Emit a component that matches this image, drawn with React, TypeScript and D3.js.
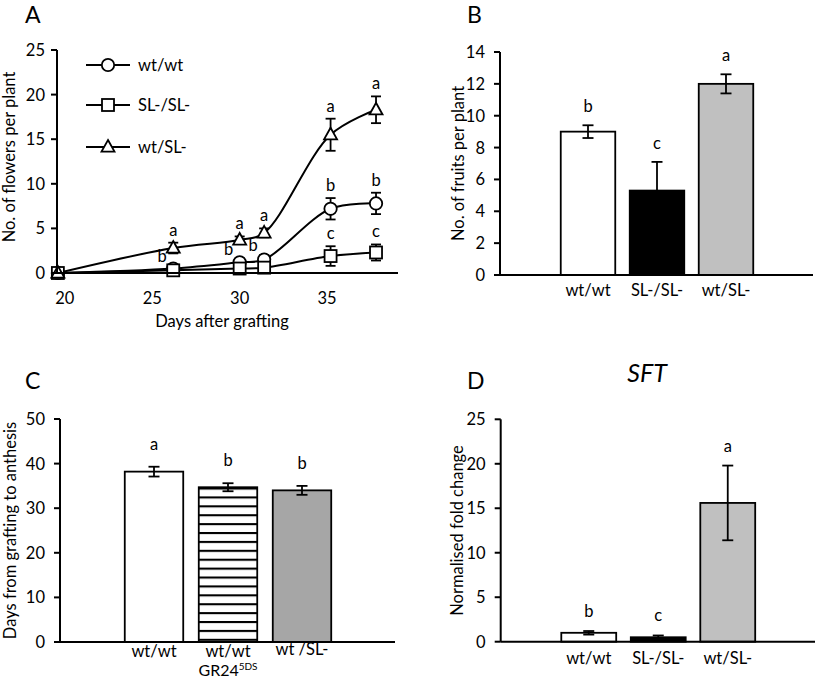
import React from "react";
import * as d3 from "d3";

// ---------- Panel A data ----------
const daysA = [19.6, 26.2, 30, 31.4, 35.2, 37.8];
const xTicksA = [20, 25, 30, 35];
const yTicksA = [0, 5, 10, 15, 20, 25];
const wtwtFlowers = [0, 0.5, 1.2, 1.5, 7.2, 7.8];
const wtwtFlowersErr = [0, 0.3, 0.4, 0.5, 1.2, 1.2];
const wtwtLetters = ["", "b", "b", "b", "b", "b"];
const slFlowers = [0, 0.3, 0.5, 0.6, 1.9, 2.3];
const slFlowersErr = [0, 0.2, 0.3, 0.3, 1.1, 0.9];
const slLetters = ["", "", "", "", "c", "c"];
const wtslFlowers = [0, 2.8, 3.7, 4.5, 15.5, 18.3];
const wtslFlowersErr = [0, 0.6, 0.4, 0.5, 1.8, 1.5];
const wtslLetters = ["", "a", "a", "a", "a", "a"];
const legendA = ["wt/wt", "SL-/SL-", "wt/SL-"];

// ---------- Panel B data ----------
const catsB = ["wt/wt", "SL-/SL-", "wt/SL-"];
const fruits = [9.0, 5.3, 12.0];
const fruitsErr = [0.4, 1.8, 0.6];
const fruitsLetters = ["b", "c", "a"];
const yTicksB = [0, 2, 4, 6, 8, 10, 12, 14];

// ---------- Panel C data ----------
const catsC = ["wt/wt", "wt/wt GR24", "wt /SL-"];
const daysToAnthesis = [38.2, 34.7, 34.0];
const daysToAnthesisErr = [1.1, 0.9, 1.0];
const anthesisLetters = ["a", "b", "b"];
const yTicksC = [0, 10, 20, 30, 40, 50];

// ---------- Panel D data ----------
const catsD = ["wt/wt", "SL-/SL-", "wt/SL-"];
const foldChange = [1.0, 0.5, 15.6];
const foldChangeErr = [0.2, 0.2, 4.2];
const foldLetters = ["b", "c", "a"];
const yTicksD = [0, 5, 10, 15, 20, 25];

const FONT = "Lato, 'Open Sans', 'DejaVu Sans', sans-serif";
const SW = 2;

function YAxis({ x, scale, ticks, labelGap }: any) {
  const [r0, r1] = scale.range();
  return (
    <g>
      <line x1={x} x2={x} y1={r0} y2={r1} stroke="#000" strokeWidth={SW} />
      {ticks.map((t: number) => (
        <g key={t}>
          <line x1={x - 6} x2={x} y1={scale(t)} y2={scale(t)} stroke="#000" strokeWidth={SW} />
          <text x={x - labelGap} y={scale(t)} dy="0.36em" textAnchor="end" fontSize={16.5} fontFamily={FONT}>
            {t}
          </text>
        </g>
      ))}
    </g>
  );
}

function ErrBar({ x, yTop, yBot, cap = 10, w = 1.6 }: any) {
  return (
    <g stroke="#000" strokeWidth={w}>
      <line x1={x} x2={x} y1={yTop} y2={yBot} />
      <line x1={x - cap / 2} x2={x + cap / 2} y1={yTop} y2={yTop} />
      <line x1={x - cap / 2} x2={x + cap / 2} y1={yBot} y2={yBot} />
    </g>
  );
}

function Marker({ kind, x, y }: any) {
  if (kind === "circle") return <circle cx={x} cy={y} r={6.2} fill="#fff" stroke="#000" strokeWidth={1.8} />;
  if (kind === "square") return <rect x={x - 6} y={y - 6} width={12} height={12} fill="#fff" stroke="#000" strokeWidth={1.8} />;
  const s = 13;
  const h = s * 0.9;
  return (
    <path
      d={`M${x},${y - h * 0.6} L${x + s / 2},${y + h * 0.4} L${x - s / 2},${y + h * 0.4} Z`}
      fill="#fff"
      stroke="#000"
      strokeWidth={1.8}
    />
  );
}

function PanelA() {
  const x = d3.scaleLinear().domain([19.55, 39]).range([57, 397]);
  const y = d3.scaleLinear().domain([0, 25]).range([273, 50]);
  const series = [
    { kind: "circle", vals: wtwtFlowers, err: wtwtFlowersErr, letters: wtwtLetters },
    { kind: "square", vals: slFlowers, err: slFlowersErr, letters: slLetters },
    { kind: "triangle", vals: wtslFlowers, err: wtslFlowersErr, letters: wtslLetters },
  ];
  const line = d3
    .line<number>()
    .x((_, i) => x(daysA[i]))
    .y((v) => y(v))
    .curve(d3.curveCatmullRom.alpha(0.5));
  const legendY = [65, 105, 147];
  const kinds = ["circle", "square", "triangle"];
  return (
    <g>
      <text x={25} y={23} fontSize={23} fontFamily={FONT}>A</text>
      {series.map((s, si) => (
        <path key={si} d={line(s.vals) || ""} fill="none" stroke="#000" strokeWidth={SW} />
      ))}
      {series.map((s, si) =>
        s.vals.map((v, i) =>
          s.err[i] > 0 ? (
            <ErrBar key={`${si}-${i}`} x={x(daysA[i])} yTop={y(v + s.err[i])} yBot={y(v - s.err[i])} cap={10} w={1.8} />
          ) : null
        )
      )}
      {series.map((s, si) =>
        s.vals.map((v, i) => <Marker key={`m${si}-${i}`} kind={s.kind} x={x(daysA[i])} y={y(v)} />)
      )}
      {series.map((s, si) =>
        s.letters.map((l, i) => {
          if (!l) return null;
          const shiftLeft = si === 0 && i >= 1 && i <= 3;
          const top = y(s.vals[i] + s.err[i]);
          return (
            <text
              key={`l${si}-${i}`}
              x={x(daysA[i]) + (shiftLeft ? -11 : 0)}
              y={shiftLeft ? top - 9 : top - 12}
              dy="0.3em"
              textAnchor="middle"
              fontSize={16.5}
              fontFamily={FONT}
            >
              {l}
            </text>
          );
        })
      )}
      <line x1={57} x2={398} y1={y(0)} y2={y(0)} stroke="#000" strokeWidth={SW} />
      <YAxis x={57} scale={y} ticks={yTicksA} labelGap={12} />
      {xTicksA.map((t) => (
        <text key={t} x={x(t)} y={304} textAnchor="middle" fontSize={16.5} fontFamily={FONT}>
          {t}
        </text>
      ))}
      <text x={222} y={327} textAnchor="middle" fontSize={16.5} fontFamily={FONT}>
        Days after grafting
      </text>
      <text transform={`translate(15,157) rotate(-90)`} textAnchor="middle" fontSize={16.5} fontFamily={FONT}>
        No. of flowers per plant
      </text>
      {legendA.map((name, i) => (
        <g key={name}>
          <line x1={86} x2={130} y1={legendY[i]} y2={legendY[i]} stroke="#000" strokeWidth={SW} />
          <Marker kind={kinds[i]} x={108} y={legendY[i]} />
          <text x={138} y={legendY[i]} dy="0.35em" fontSize={16.5} fontFamily={FONT}>
            {name}
          </text>
        </g>
      ))}
    </g>
  );
}

function BarPanel({
  label, labelX, labelY, cats, vals, errs, letters, fills, yDomain, yRange, ticks, axisX, axisEnd,
  bandRange, yTitle, yTitleX, letterGap, catLabelY, hatchIndex, title,
}: any) {
  const y = d3.scaleLinear().domain(yDomain).range(yRange);
  const x = d3.scaleBand<string>().domain(cats).range(bandRange).paddingInner(0.21).paddingOuter(0.105);
  const y0 = y(0);
  return (
    <g>
      <text x={labelX} y={labelY} fontSize={23} fontFamily={FONT}>{label}</text>
      {title}
      {cats.map((c: string, i: number) => (
        <rect
          key={c}
          x={x(c)}
          y={y(vals[i])}
          width={x.bandwidth()}
          height={y0 - y(vals[i])}
          fill={i === hatchIndex ? "url(#hatch)" : fills[i]}
          stroke="#000"
          strokeWidth={1.8}
        />
      ))}
      {cats.map((c: string, i: number) => {
        const cx = (x(c) as number) + x.bandwidth() / 2;
        return (
          <g key={"e" + c}>
            <ErrBar x={cx} yTop={y(vals[i] + errs[i])} yBot={y(vals[i] - errs[i])} cap={11} w={1.8} />
            <text x={cx} y={y(vals[i] + errs[i]) - letterGap} dy="0.3em" textAnchor="middle" fontSize={16.5} fontFamily={FONT}>
              {letters[i]}
            </text>
          </g>
        );
      })}
      <line x1={axisX} x2={axisEnd} y1={y0} y2={y0} stroke="#000" strokeWidth={SW} />
      <YAxis x={axisX} scale={y} ticks={ticks} labelGap={15} />
      <text
        transform={`translate(${yTitleX},${(yRange[0] + yRange[1]) / 2}) rotate(-90)`}
        textAnchor="middle"
        fontSize={16.5}
        fontFamily={FONT}
      >
        {yTitle}
      </text>
      {cats.map((c: string) => {
        const cx = (x(c) as number) + x.bandwidth() / 2;
        if (c === "wt/wt GR24") {
          return (
            <g key={"t" + c}>
              <text x={cx} y={catLabelY} textAnchor="middle" fontSize={16.5} fontFamily={FONT}>wt/wt</text>
              <text x={cx} y={catLabelY + 19} textAnchor="middle" fontSize={16} fontFamily={FONT}>
                GR24<tspan fontSize={10} dy="-6">5DS</tspan>
              </text>
            </g>
          );
        }
        return (
          <text key={"t" + c} x={cx} y={catLabelY - (c === "wt /SL-" ? 2 : 0)} textAnchor="middle" fontSize={16.5} fontFamily={FONT}>
            {c}
          </text>
        );
      })}
    </g>
  );
}

export default function App() {
  return (
    <svg
      width={816}
      height={679}
      style={{ position: "absolute", left: 0, top: 0, background: "#fff" }}
      xmlns="http://www.w3.org/2000/svg"
    >
      <defs>
        <pattern id="hatch" patternUnits="userSpaceOnUse" width={8} height={8.9} y={488.5 - 1}>
          <rect width={8} height={8.9} fill="#fff" />
          <line x1={0} x2={8} y1={1} y2={1} stroke="#000" strokeWidth={2.2} />
        </pattern>
      </defs>
      <rect width={816} height={679} fill="#fff" />
      <PanelA />
      <BarPanel
        label="B" labelX={467} labelY={23}
        cats={catsB} vals={fruits} errs={fruitsErr} letters={fruitsLetters}
        fills={["#fff", "#000", "#c0c0c0"]}
        yDomain={[0, 14]} yRange={[275, 52]} ticks={yTicksB}
        axisX={500} axisEnd={813} bandRange={[553.5, 760.5]}
        yTitle="No. of fruits per plant" yTitleX={464} letterGap={18} catLabelY={296}
        hatchIndex={-1}
      />
      <BarPanel
        label="C" labelX={25} labelY={389}
        cats={catsC} vals={daysToAnthesis} errs={daysToAnthesisErr} letters={anthesisLetters}
        fills={["#fff", "#fff", "#a6a6a6"]}
        yDomain={[0, 50]} yRange={[642, 419]} ticks={yTicksC}
        axisX={60} axisEnd={395} bandRange={[117, 339]}
        yTitle="Days from grafting to anthesis" yTitleX={16} letterGap={22} catLabelY={657}
        hatchIndex={1}
      />
      <BarPanel
        label="D" labelX={467} labelY={389}
        cats={catsD} vals={foldChange} errs={foldChangeErr} letters={foldLetters}
        fills={["#fff", "#000", "#c0c0c0"]}
        yDomain={[0, 25]} yRange={[641.7, 419.3]} ticks={yTicksD}
        axisX={500.7} axisEnd={815} bandRange={[554, 762.5]}
        yTitle="Normalised fold change" yTitleX={463} letterGap={19} catLabelY={664}
        hatchIndex={-1}
        title={
          <text x={647} y={382} textAnchor="middle" fontSize={25} fontStyle="italic" fontFamily={FONT}>
            SFT
          </text>
        }
      />
    </svg>
  );
}
